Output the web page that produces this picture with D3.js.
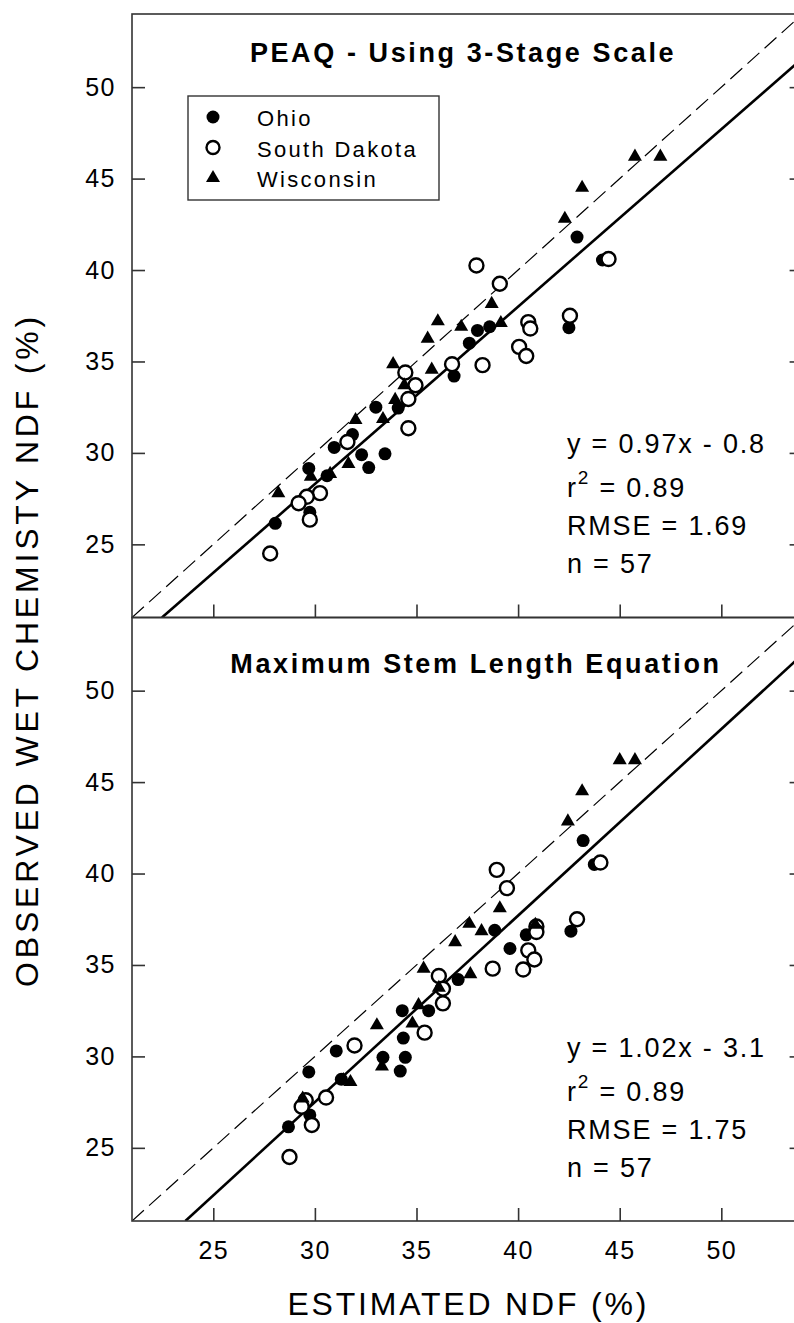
<!DOCTYPE html>
<html lang="en">
<head>
<meta charset="UTF-8">
<title>Observed vs estimated NDF</title>
<script src="https://d3js.org/d3.v7.min.js"></script>
<style>
    body { margin: 0; background: #fff; }
    svg text { font-family: "Liberation Sans", Arial, sans-serif; fill: #000; }
    .frame { fill: none; stroke: #333; stroke-width: 1.6px; }
    .axis line { stroke: #333; stroke-width: 1.6px; }
    .axis path { display: none; }
    .axis text { font-size: 25px; letter-spacing: 1.5px; fill: #000; }
    .fit { fill: none; stroke: #000; stroke-width: 2.6px; }
    .unity { fill: none; stroke: #000; stroke-width: 1.2px; stroke-dasharray: 16 7; }
    .title { font-size: 27px; font-weight: bold; letter-spacing: 2.6px; }
    .stat { font-size: 27px; letter-spacing: 1.8px; }
    .legend text { font-size: 22px; letter-spacing: 2.3px; }
    .label { font-size: 32px; letter-spacing: 2.8px; }
    .ylabel { letter-spacing: 3.8px; }
</style>
</head>
<body>
<script>
    // ticks shared by both panels
    const xTicks = [25, 30, 35, 40, 45, 50];
    const yTicks = [25, 30, 35, 40, 45, 50];

    // [estimated NDF, observed NDF]
    const peaqOhio = [
        [42.9, 41.8], [38.0, 36.7], [38.6, 36.9], [37.6, 36.0], [42.5, 36.85], [36.85, 34.2],
        [33.0, 32.5], [34.1, 32.45], [31.85, 31.0], [30.95, 30.3], [32.3, 29.9], [33.45, 29.95],
        [32.65, 29.2], [29.7, 29.15], [30.6, 28.75], [29.75, 26.75], [28.05, 26.15], [44.15, 40.55]
    ];
    const peaqSouthDakota = [
        [37.95, 40.25], [39.1, 39.25], [40.5, 37.15], [40.6, 36.8], [42.55, 37.5], [40.05, 35.8],
        [40.4, 35.3], [38.25, 34.8], [36.75, 34.85], [34.45, 34.4], [34.95, 33.7], [34.6, 32.95],
        [44.45, 40.6], [34.6, 31.35], [31.6, 30.6], [30.25, 27.8], [29.6, 27.6], [29.2, 27.25],
        [29.75, 26.35], [27.8, 24.5]
    ];
    const peaqWisconsin = [
        [45.75, 46.2], [47.0, 46.2], [43.15, 44.5], [42.3, 42.8], [38.7, 38.15], [36.05, 37.2],
        [37.2, 36.9], [39.15, 37.1], [35.55, 36.25], [33.85, 34.85], [35.75, 34.55], [34.4, 33.7],
        [33.95, 32.9], [32.0, 31.8], [33.35, 31.85], [31.65, 29.4], [30.75, 28.85], [29.8, 28.7],
        [28.2, 27.8]
    ];

    const mslOhio = [
        [43.2, 41.8], [38.85, 36.9], [40.4, 36.65], [42.6, 36.85], [39.6, 35.9], [37.05, 34.2],
        [34.3, 32.5], [35.6, 32.5], [34.35, 31.0], [31.05, 30.3], [33.35, 29.95], [34.45, 29.95],
        [34.2, 29.2], [29.7, 29.15], [29.75, 26.8], [28.7, 26.15], [43.75, 40.5], [31.3, 28.75]
    ];
    const mslSouthDakota = [
        [38.95, 40.2], [39.45, 39.2], [42.9, 37.5], [40.9, 37.1], [40.9, 36.8], [40.5, 35.8],
        [40.8, 35.3], [40.25, 34.75], [38.75, 34.8], [36.1, 34.4], [36.3, 33.7], [36.3, 32.9],
        [35.4, 31.3], [31.95, 30.6], [30.55, 27.75], [29.55, 27.6], [29.35, 27.25], [29.85, 26.25],
        [28.75, 24.5], [44.05, 40.6]
    ];
    const mslWisconsin = [
        [45.0, 46.2], [45.75, 46.2], [43.15, 44.5], [42.45, 42.85], [39.1, 38.1], [37.6, 37.25],
        [38.2, 36.85], [40.85, 37.2], [36.9, 36.25], [35.35, 34.8], [37.65, 34.5], [36.1, 33.75],
        [35.1, 32.8], [34.8, 31.8], [33.05, 31.7], [33.3, 29.45], [31.4, 28.7], [31.75, 28.6],
        [29.4, 27.7]
    ];

    const panelTitles = ["PEAQ - Using 3-Stage Scale", "Maximum Stem Length Equation"];
    const fitSlopes = [0.97, 1.02];
    const fitIntercepts = [-0.8, -3.1];
    const fitLabels = ["y = 0.97x - 0.8", "y = 1.02x - 3.1"];
    const r2Labels = ["0.89", "0.89"];
    const rmseLabels = ["1.69", "1.75"];
    const nLabels = ["57", "57"];
    const states = ["Ohio", "South Dakota", "Wisconsin"];

    const panels = [
        { ohio: peaqOhio, sd: peaqSouthDakota, wis: peaqWisconsin },
        { ohio: mslOhio, sd: mslSouthDakota, wis: mslWisconsin }
    ];

    const width = 794, height = 1323;
    const left = 132, plotW = 670.6, plotH = 603.5;
    const panelTops = [14, 617.5];
    const domain = [21, 54];

    const svg = d3.select("body").append("svg")
        .attr("width", width)
        .attr("height", height);

    const x = d3.scaleLinear().domain(domain).range([left, left + plotW]);
    const tri = d3.symbol(d3.symbolTriangle, 85);

    panels.forEach(function (p, i) {
        const top = panelTops[i];
        const y = d3.scaleLinear().domain(domain).range([top + plotH, top]);
        const g = svg.append("g");

        g.append("clipPath").attr("id", "clip" + i)
            .append("rect")
            .attr("x", left).attr("y", top)
            .attr("width", plotW).attr("height", plotH);

        const lines = g.append("g").attr("clip-path", "url(#clip" + i + ")");

        // 1:1 line
        lines.append("line").attr("class", "unity")
            .attr("x1", x(domain[0])).attr("y1", y(domain[0]))
            .attr("x2", x(domain[1])).attr("y2", y(domain[1]));

        // regression line
        const x0 = (domain[0] - fitIntercepts[i]) / fitSlopes[i];
        lines.append("line").attr("class", "fit")
            .attr("x1", x(x0)).attr("y1", y(fitSlopes[i] * x0 + fitIntercepts[i]))
            .attr("x2", x(domain[1])).attr("y2", y(fitSlopes[i] * domain[1] + fitIntercepts[i]));

        // axes with inward ticks
        g.append("g").attr("class", "axis")
            .attr("transform", "translate(" + left + ",0)")
            .call(d3.axisLeft(y).tickValues(yTicks).tickSize(-13).tickPadding(16).tickSizeOuter(0));

        g.append("g").attr("class", "axis")
            .attr("transform", "translate(" + (left + plotW) + ",0)")
            .call(d3.axisRight(y).tickValues(yTicks).tickSize(-13).tickFormat("").tickSizeOuter(0));

        const bottomAxis = d3.axisBottom(x).tickValues(xTicks).tickSize(-13).tickPadding(20).tickSizeOuter(0);
        if (i === 0) bottomAxis.tickFormat("");
        g.append("g").attr("class", "axis")
            .attr("transform", "translate(0," + (top + plotH) + ")")
            .call(bottomAxis);

        g.append("rect").attr("class", "frame")
            .attr("x", left).attr("y", top)
            .attr("width", plotW).attr("height", plotH);

        // points: Ohio, then South Dakota (white filled), then Wisconsin
        g.selectAll("circle.ohio").data(p.ohio).enter().append("circle")
            .attr("class", "ohio")
            .attr("cx", d => x(d[0])).attr("cy", d => y(d[1]))
            .attr("r", 6.5).attr("fill", "#000");

        g.selectAll("circle.sd").data(p.sd).enter().append("circle")
            .attr("class", "sd")
            .attr("cx", d => x(d[0])).attr("cy", d => y(d[1]))
            .attr("r", 7).attr("fill", "#fff")
            .attr("stroke", "#000").attr("stroke-width", 2.4);

        g.selectAll("path.wis").data(p.wis).enter().append("path")
            .attr("class", "wis")
            .attr("d", tri)
            .attr("transform", d => "translate(" + x(d[0]) + "," + y(d[1]) + ")")
            .attr("fill", "#000");

        // panel title
        g.append("text").attr("class", "title")
            .attr("x", i === 0 ? 463 : 476)
            .attr("y", top + (i === 0 ? 48 : 55))
            .attr("text-anchor", "middle")
            .text(panelTitles[i]);

        // regression statistics
        const sx = 567;
        g.append("text").attr("class", "stat")
            .attr("x", sx).attr("y", top + 439)
            .text(fitLabels[i]);

        const r2 = g.append("text").attr("class", "stat")
            .attr("x", sx).attr("y", top + 483);
        r2.append("tspan").text("r");
        r2.append("tspan").attr("dy", -13).style("font-size", "19px").text("2");
        r2.append("tspan").attr("dy", 13).text(" = " + r2Labels[i]);

        g.append("text").attr("class", "stat")
            .attr("x", sx).attr("y", top + 521)
            .text("RMSE = " + rmseLabels[i]);

        g.append("text").attr("class", "stat")
            .attr("x", sx).attr("y", top + 559)
            .text("n = " + nLabels[i]);
    });

    // legend (top panel only)
    const legend = svg.append("g").attr("class", "legend");
    legend.append("rect")
        .attr("x", 188).attr("y", 96).attr("width", 251).attr("height", 104)
        .attr("fill", "#fff").attr("stroke", "#333").attr("stroke-width", 1.4);

    const rowY = d3.scalePoint().domain(states).range([117, 178]);
    legend.append("circle")
        .attr("cx", 213).attr("cy", rowY(states[0])).attr("r", 6.5).attr("fill", "#000");
    legend.append("circle")
        .attr("cx", 213).attr("cy", rowY(states[1])).attr("r", 6.5).attr("fill", "#fff")
        .attr("stroke", "#000").attr("stroke-width", 2.4);
    legend.append("path")
        .attr("d", tri)
        .attr("transform", "translate(213," + rowY(states[2]) + ")")
        .attr("fill", "#000");

    legend.selectAll("text").data(states).enter().append("text")
        .attr("x", 257).attr("y", d => rowY(d) + 9)
        .text(d => d);

    // axis titles
    svg.append("text").attr("class", "label ylabel")
        .attr("transform", "translate(38,650) rotate(-90)")
        .attr("text-anchor", "middle")
        .text("OBSERVED WET CHEMISTY NDF (%)");

    svg.append("text").attr("class", "label")
        .attr("x", left + plotW / 2 + 1).attr("y", 1315)
        .attr("text-anchor", "middle")
        .text("ESTIMATED NDF (%)");
</script>
</body>
</html>
